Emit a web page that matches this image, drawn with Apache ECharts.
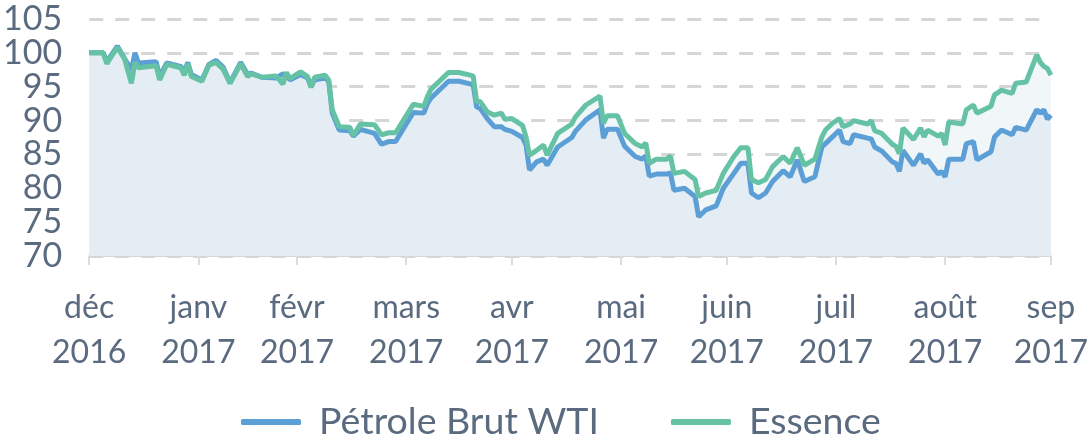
<!DOCTYPE html>
<html>
<head>
<meta charset="utf-8">
<script src="https://cdn.jsdelivr.net/npm/echarts@6/dist/echarts.min.js"></script>
<style>html,body{margin:0;padding:0;background:#fff;}#c{width:1091px;height:436px;}</style>
</head>
<body>
<div id="c"></div>
<script>
const dates = [
'2016-12-31','2017-01-04','2017-01-05','2017-01-08','2017-01-10','2017-01-12','2017-01-13','2017-01-14','2017-01-19','2017-01-20',
'2017-01-22','2017-01-26','2017-01-27','2017-01-28','2017-01-29','2017-02-01','2017-02-03','2017-02-05','2017-02-07','2017-02-09',
'2017-02-12','2017-02-14','2017-02-15','2017-02-18','2017-02-22','2017-02-24','2017-02-25','2017-02-26','2017-03-01','2017-03-03',
'2017-03-04','2017-03-05','2017-03-08','2017-03-09','2017-03-10','2017-03-12','2017-03-15','2017-03-16','2017-03-18','2017-03-22',
'2017-03-24','2017-03-26','2017-03-28','2017-04-02','2017-04-05','2017-04-06','2017-04-07','2017-04-12','2017-04-15','2017-04-19',
'2017-04-20','2017-04-21','2017-04-23','2017-04-25','2017-04-27','2017-04-28','2017-04-30','2017-05-03','2017-05-04','2017-05-05',
'2017-05-07','2017-05-09','2017-05-10','2017-05-13','2017-05-17','2017-05-18','2017-05-21','2017-05-25','2017-05-26','2017-05-27',
'2017-05-30','2017-06-01','2017-06-04','2017-06-06','2017-06-07','2017-06-08','2017-06-10','2017-06-13','2017-06-14','2017-06-15',
'2017-06-18','2017-06-21','2017-06-22','2017-06-24','2017-06-27','2017-06-29','2017-07-02','2017-07-04','2017-07-06','2017-07-07',
'2017-07-09','2017-07-11','2017-07-13','2017-07-16','2017-07-18','2017-07-20','2017-07-22','2017-07-25','2017-07-27','2017-07-28',
'2017-07-30','2017-08-01','2017-08-02','2017-08-04','2017-08-05','2017-08-09','2017-08-10','2017-08-11','2017-08-13','2017-08-16',
'2017-08-17','2017-08-18','2017-08-19','2017-08-22','2017-08-24','2017-08-25','2017-08-26','2017-08-29','2017-08-30','2017-08-31',
'2017-09-01','2017-09-05','2017-09-06','2017-09-08','2017-09-09','2017-09-13','2017-09-14','2017-09-16','2017-09-19','2017-09-20',
'2017-09-23','2017-09-26','2017-09-27','2017-09-28','2017-09-29','2017-09-30'
];
const wti = [
100,100,98.7,101,99.2,97.5,100,98.5,98.7,96.5,
98.5,98,97.2,98.6,96.8,96.0,98.3,98.9,97.9,95.6,
98.6,96.8,97.0,96.4,96.3,96.9,96.8,96.0,96.8,96.3,
95.0,96.0,96.3,95.8,91.1,88.6,88.5,87.7,88.7,88.1,
86.5,86.9,86.9,91.2,91.1,92.5,93.3,95.8,95.8,95.3,
92.0,91.8,90.3,89.1,89.1,88.7,88.4,87.5,86.4,82.7,
83.9,84.3,83.4,86.1,87.5,88.4,90.1,91.6,87.4,88.7,
88.7,86.2,84.7,84.3,84.8,81.8,82.1,82.1,82.3,79.7,
80.0,78.8,75.8,76.8,77.4,80.0,82.2,83.7,83.7,79.3,
78.6,79.3,81.0,82.6,81.7,84.2,81.0,81.7,86.1,86.6,
87.6,88.6,86.9,86.6,87.9,87.4,87.3,86.1,85.5,83.9,
83.7,82.5,85.6,83.4,85.1,83.7,84.2,82.1,82.5,81.7,
84.3,84.3,86.6,86.9,84.2,85.4,87.6,88.6,87.9,89.0,
88.6,91.6,91.1,91.6,90.2,90.8
];
const essence = [
100,100,98.4,100.8,99.2,95.5,98.6,97.8,98.1,96.0,
98.3,97.8,96.7,98.4,96.5,95.8,98.2,98.6,97.6,95.5,
98.4,96.5,96.9,96.4,96.6,95.4,97.1,96.2,97.2,96.5,
94.9,96.4,96.7,96.0,91.6,89.1,89.0,87.8,89.5,89.4,
87.9,88.2,88.2,92.4,92.1,93.5,94.6,97.1,97.1,96.6,
92.8,92.8,91.3,90.8,91.1,90.2,90.3,89.3,87.6,84.9,
85.6,86.4,84.9,88.1,89.5,90.5,92.3,93.6,89.6,90.7,
90.7,88.1,86.6,86.1,86.7,83.7,84.3,84.3,84.8,82.2,
82.5,81.3,78.8,79.3,79.7,82.2,84.7,86.0,86.0,81.3,
80.8,81.3,83.2,84.7,83.7,86.0,83.4,84.3,87.6,88.6,
89.6,90.3,89.1,89.5,90.0,89.5,90.0,88.5,88.1,86.5,
86.2,85.1,88.9,87.2,88.9,87.6,88.6,87.7,88.1,86.4,
89.8,89.5,91.6,92.3,91.1,92.1,93.8,94.5,94.0,95.5,
95.7,99.7,98.6,98.0,97.7,96.7
];
const tickDates = ['2016-12-31','2017-01-31','2017-02-28','2017-03-31','2017-04-30','2017-05-31','2017-06-30','2017-07-31','2017-08-31','2017-09-30'];
const tickLabels = ['déc\n2016','janv\n2017','févr\n2017','mars\n2017','avr\n2017','mai\n2017','juin\n2017','juil\n2017','août\n2017','sep\n2017'];
const yTicks = {min: 70, max: 105, interval: 5};
const seriesNames = ['Pétrole Brut WTI', 'Essence'];

function ts(s){ const p = s.split('-').map(Number); return Date.UTC(p[0], p[1]-1, p[2]) / 86400000; }
const tickTs = tickDates.map(ts);
const wtiData = dates.map((d,i)=>[ts(d), wti[i]]);
const essData = dates.map((d,i)=>[ts(d), essence[i]]);

const FONT = 'Lato';
const TXT = '#5a6a7f';
const BLUE = '#5b9fd6';
const GREEN = '#66c2a5';

const chart = echarts.init(document.getElementById('c'), null, {renderer:'canvas'});
chart.setOption({
  animation: false,
  grid: {left: 86, right: 39, top: 19, bottom: 180, containLabel: false},
  legend: {
    left: 236, top: 398,
    itemWidth: 60, itemHeight: 6, itemGap: 72,
    icon: 'roundRect',
    data: [
      {name: seriesNames[0], itemStyle: {color: BLUE}},
      {name: seriesNames[1], itemStyle: {color: GREEN}}
    ],
    textStyle: {fontFamily: FONT, fontSize: 37.5, color: TXT, padding: [0,0,0,13]}
  },
  xAxis: {
    type: 'value',
    min: tickTs[0], max: tickTs[tickTs.length-1],
    axisLine: {show: true, lineStyle: {color: '#cfd6dc', width: 2}},
    axisTick: {show: true, customValues: tickTs, length: 9, lineStyle: {color: '#dcdcdc', width: 2}},
    axisLabel: {
      customValues: tickTs,
      showMinLabel: true, showMaxLabel: true,
      margin: 29,
      fontFamily: FONT, fontSize: 32, lineHeight: 45, color: TXT,
      formatter: function(v){ const i = tickTs.indexOf(v); return i >= 0 ? tickLabels[i] : ''; }
    },
    splitLine: {show: false}
  },
  yAxis: {
    type: 'value',
    min: yTicks.min, max: yTicks.max, interval: yTicks.interval,
    axisLine: {show: false}, axisTick: {show: false},
    axisLabel: {margin: 27, fontFamily: FONT, fontSize: 34, color: TXT},
    splitLine: {show: true, lineStyle: {color: '#d6d6d6', width: 3, type: [14, 12]}}
  },
  series: [
    {
      name: 'essence-area', type: 'line', data: essData, symbol: 'none',
      lineStyle: {width: 0, opacity: 0}, areaStyle: {color: '#f1f7f8', opacity: 1},
      silent: true, z: 1
    },
    {
      name: seriesNames[0], type: 'line', data: wtiData, symbol: 'none',
      lineStyle: {color: BLUE, width: 5}, itemStyle: {color: BLUE},
      areaStyle: {color: '#e5edf4', opacity: 1}, z: 2
    },
    {
      name: seriesNames[1], type: 'line', data: essData, symbol: 'none',
      lineStyle: {color: GREEN, width: 5}, itemStyle: {color: GREEN}, z: 3
    }
  ]
});
</script>
</body>
</html>
